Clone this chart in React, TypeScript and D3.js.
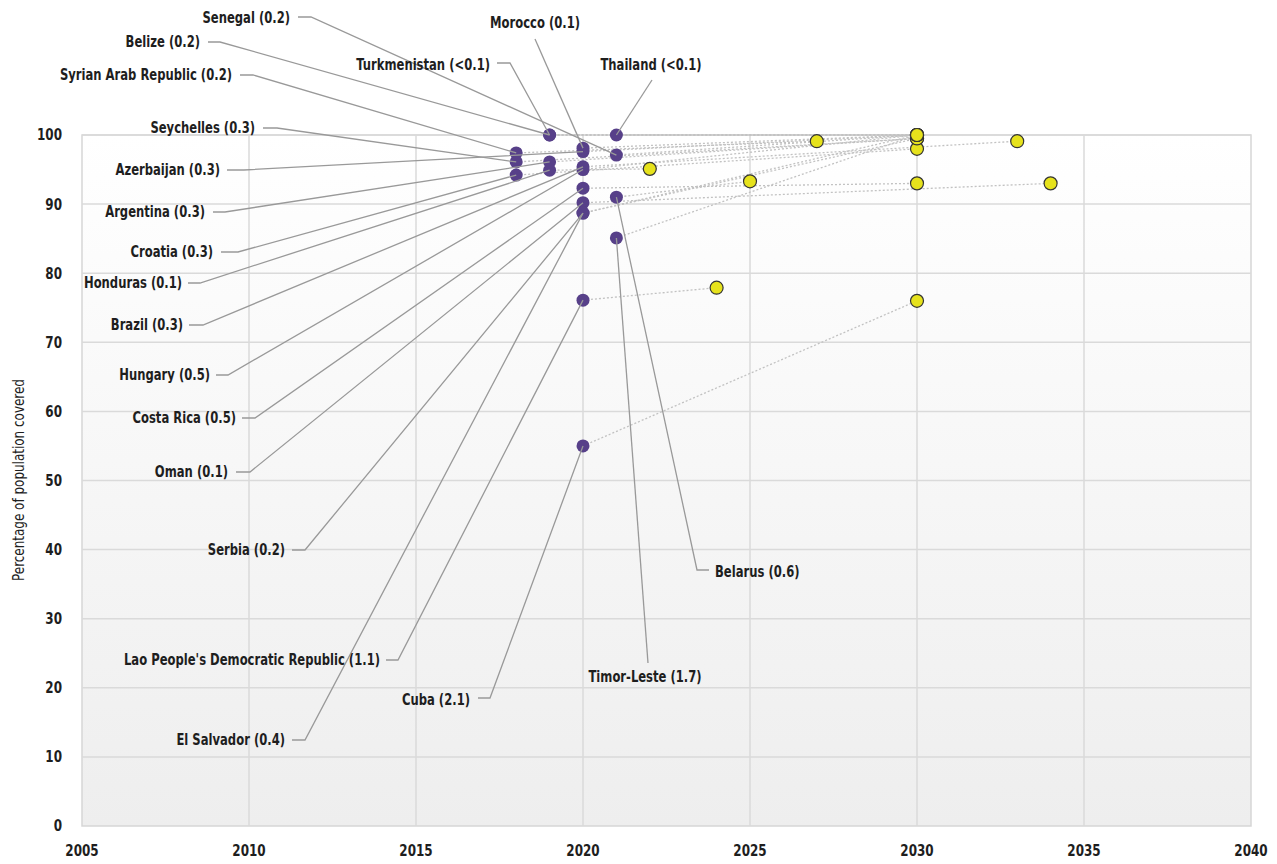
import React from "react";
import * as d3 from "d3";

// ---- Data ----
const countries = [
  "Senegal", "Belize", "Syrian Arab Republic", "Seychelles", "Azerbaijan",
  "Argentina", "Croatia", "Honduras", "Brazil", "Hungary", "Costa Rica",
  "Oman", "Serbia", "Lao People's Democratic Republic", "El Salvador",
  "Turkmenistan", "Morocco", "Thailand", "Belarus", "Timor-Leste", "Cuba",
];
const shares = [
  "0.2", "0.2", "0.2", "0.3", "0.3", "0.3", "0.3", "0.1", "0.3", "0.5", "0.5",
  "0.1", "0.2", "1.1", "0.4", "<0.1", "0.1", "<0.1", "0.6", "1.7", "2.1",
];
const startYear = [2021, 2019, 2018, 2018, 2020, 2019, 2018, 2019, 2020, 2020, 2020, 2020, 2020, 2020, 2020, 2019, 2020, 2021, 2021, 2021, 2020];
const startValue = [97.1, 100, 97.4, 96.1, 97.6, 96.1, 94.2, 94.9, 95.4, 95.0, 92.3, 90.2, 88.7, 76.1, 88.7, 100, 98.1, 100, 91.0, 85.1, 55.0];
const targetYear = [2030, 2030, 2027, 2030, 2030, 2030, 2030, 2022, 2033, 2030, 2030, 2034, 2030, 2024, 2030, 2030, 2030, 2030, 2025, 2030, 2030];
const targetValue = [100, 100, 99.1, 99.5, 100, 99.5, 98.0, 95.1, 99.1, 100, 93.0, 93.0, 100, 77.9, 99.5, 100, 100, 100, 93.3, 100, 76.0];

const xTicks = [2005, 2010, 2015, 2020, 2025, 2030, 2035, 2040];
const yTicks = [0, 10, 20, 30, 40, 50, 60, 70, 80, 90, 100];

// ---- Label layout (pixels): text anchor point and leader start ----
type Lay = { tx: number; ty: number; anchor: "start" | "end" | "middle"; lead: [number, number][] };
const labelLayout: Lay[] = [
  { tx: 290, ty: 18, anchor: "end", lead: [[298, 17], [311, 17]] },
  { tx: 200, ty: 42, anchor: "end", lead: [[208, 42], [220, 42]] },
  { tx: 232, ty: 75, anchor: "end", lead: [[240, 75], [253, 75]] },
  { tx: 255, ty: 128, anchor: "end", lead: [[263, 128], [277, 128]] },
  { tx: 220, ty: 170, anchor: "end", lead: [[227, 170], [244, 170]] },
  { tx: 205, ty: 212, anchor: "end", lead: [[213, 212], [225, 212]] },
  { tx: 213, ty: 252, anchor: "end", lead: [[221, 252], [238, 252]] },
  { tx: 182, ty: 283, anchor: "end", lead: [[188, 283], [200, 283]] },
  { tx: 183, ty: 325, anchor: "end", lead: [[189, 325], [203, 325]] },
  { tx: 210, ty: 375, anchor: "end", lead: [[216, 375], [228, 375]] },
  { tx: 236, ty: 418, anchor: "end", lead: [[242, 418], [255, 418]] },
  { tx: 228, ty: 472, anchor: "end", lead: [[236, 472], [250, 472]] },
  { tx: 285, ty: 550, anchor: "end", lead: [[292, 550], [305, 550]] },
  { tx: 380, ty: 660, anchor: "end", lead: [[386, 660], [398, 660]] },
  { tx: 285, ty: 740, anchor: "end", lead: [[292, 740], [305, 740]] },
  { tx: 490, ty: 65, anchor: "end", lead: [[497, 63], [510, 63]] },
  { tx: 535, ty: 23, anchor: "middle", lead: [[535, 39]] },
  { tx: 651, ty: 65, anchor: "middle", lead: [[652, 80]] },
  { tx: 715, ty: 572, anchor: "start", lead: [[709, 570], [697, 570]] },
  { tx: 645, ty: 677, anchor: "middle", lead: [[648, 663]] },
  { tx: 470, ty: 700, anchor: "end", lead: [[478, 698], [490, 698]] },
];

const FONT = "'DejaVu Sans Condensed', 'Liberation Sans Narrow', sans-serif";
const SX = 0.86;

function T(props: { x: number; y: number; anchor: "start" | "end" | "middle"; size?: number; weight?: string; children: React.ReactNode }) {
  return (
    <g transform={`translate(${props.x},${props.y}) scale(${SX},1)`}>
      <text x={0} y={0} dy="0.35em" textAnchor={props.anchor} fontFamily={FONT} fontWeight={props.weight ?? "bold"}
        fontSize={props.size ?? 15} fill="#1e1e1e">{props.children}</text>
    </g>
  );
}

export default function App() {
  const W = 1277, H = 864;
  const x = d3.scaleLinear().domain([2005, 2040]).range([82, 1251]);
  const y = d3.scaleLinear().domain([0, 100]).range([826, 135]);
  const line = d3.line<[number, number]>();

  const idx = d3.range(countries.length);

  return (
    <svg width={W} height={H} style={{ position: "absolute", left: 0, top: 0, background: "#fff" }}>
      <defs>
        <linearGradient id="bg" x1="0" y1="0" x2="0" y2="1">
          <stop offset="0" stopColor="#ffffff" />
          <stop offset="1" stopColor="#eeeeee" />
        </linearGradient>
      </defs>
      <rect x={x(2005)} y={y(100)} width={x(2040) - x(2005)} height={y(0) - y(100)} fill="url(#bg)" stroke="#d6d6d6" strokeWidth={1.5} />
      {/* gridlines */}
      {yTicks.filter(t => t > 0).map(t => (
        <line key={"gy" + t} x1={x(2005)} x2={x(2040)} y1={y(t)} y2={y(t)} stroke="#dadada" strokeWidth={1.5} />
      ))}
      {xTicks.filter(t => t > 2005 && t < 2040).map(t => (
        <line key={"gx" + t} x1={x(t)} x2={x(t)} y1={y(100)} y2={y(0)} stroke="#dadada" strokeWidth={1.5} />
      ))}
      {/* axis labels */}
      {yTicks.map(t => (
        <T key={"yl" + t} x={62} y={y(t)} anchor="end" size={15.5}>{t}</T>
      ))}
      {xTicks.map(t => (
        <T key={"xl" + t} x={x(t)} y={851} anchor="middle" size={15.5}>{t}</T>
      ))}
      <g transform={`translate(19,480) rotate(-90) scale(${SX},1)`}>
        <text textAnchor="middle" dy="0.35em" fontFamily={FONT} fontSize={15.5} fill="#1e1e1e">Percentage of population covered</text>
      </g>
      {/* dotted connecting lines */}
      {idx.map(i => (
        <line key={"dl" + i} x1={x(startYear[i])} y1={y(startValue[i])} x2={x(targetYear[i])} y2={y(targetValue[i])}
          stroke="#c2c2c2" strokeWidth={1.3} strokeDasharray="2,2" />
      ))}
      {/* start points */}
      {idx.map(i => (
        <circle key={"sp" + i} cx={x(startYear[i])} cy={y(startValue[i])} r={6.5} fill="#574089" />
      ))}
      {/* leader lines */}
      {idx.map(i => {
        const pts: [number, number][] = [...labelLayout[i].lead, [x(startYear[i]), y(startValue[i])]];
        return <path key={"ll" + i} d={line(pts) || ""} fill="none" stroke="#999" strokeWidth={1.3} />;
      })}
      {/* target points */}
      {idx.map(i => (
        <circle key={"tp" + i} cx={x(targetYear[i])} cy={y(targetValue[i])} r={6.5} fill="#e6e21c" stroke="#333" strokeWidth={1.2} />
      ))}
      {/* labels */}
      {idx.map(i => (
        <T key={"lb" + i} x={labelLayout[i].tx} y={labelLayout[i].ty} anchor={labelLayout[i].anchor}>{`${countries[i]} (${shares[i]})`}</T>
      ))}
    </svg>
  );
}
